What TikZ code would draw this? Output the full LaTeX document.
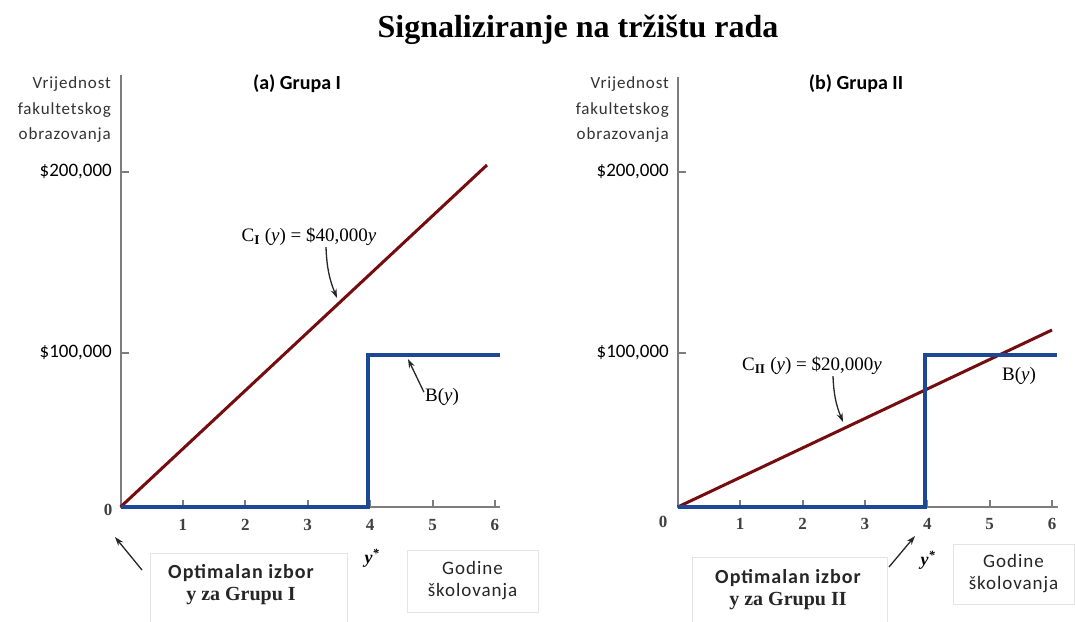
\documentclass[tikz,border=0pt]{standalone}
\usepackage{fontspec}
\setmainfont{Liberation Serif}
\setsansfont{Carlito}
\newfontfamily\widesans[LetterSpace=5]{Carlito}
\usetikzlibrary{arrows.meta}

\definecolor{costred}{RGB}{118,12,14}
\definecolor{benblue}{RGB}{28,72,150}
\definecolor{axisgray}{RGB}{125,125,125}
\definecolor{boxgray}{RGB}{228,228,228}

\begin{document}
\begin{tikzpicture}[x=1pt,y=-1pt,
    axisline/.style={draw=axisgray,line width=2pt},
    costline/.style={draw=costred,line width=3pt},
    benline/.style={draw=benblue,line width=3.5pt},
    pointer/.style={-{Stealth[length=9pt,width=6pt]},line width=1.3pt,black!85},
    vallab/.style={font=\widesans\fontsize{17}{25.5}\selectfont,align=right,anchor=east,text=black!80,inner sep=0pt},
    moneylab/.style={font=\sffamily\fontsize{19}{20}\selectfont,anchor=east,inner sep=0pt},
    yearlab/.style={font=\bfseries\fontsize{17}{18}\selectfont,text=black!75,inner sep=0pt},
    paneltitle/.style={font=\sffamily\bfseries\fontsize{20}{22}\selectfont,inner sep=0pt},
    curvelab/.style={font=\fontsize{19}{22}\selectfont,inner sep=1pt},
    infobox/.style={draw=boxgray,line width=1pt,fill=white},
    boxtext/.style={align=center,font=\fontsize{20}{22}\selectfont,text=black!85},
  ]
  % Background and margins
  \fill[white] (0,0) rectangle (1075,621);
  \useasboundingbox (0,0) rectangle (1075,621);

  % Title
  \node[font=\bfseries\fontsize{32}{36}\selectfont,anchor=base] (title) at (578,37) {Signaliziranje na tržištu rada};

  % ---------- (a) Grupa I ----------
  % Draw axes
  \draw[axisline] (120.5,75) -- (120.5,507) -- (500,507);
  \foreach \k in {1,...,6}
    \draw[axisline] (120.5+62.4*\k,507) -- (120.5+62.4*\k,500);
  \draw[axisline] (120.5,172) -- (129,172);
  \draw[axisline] (120.5,353) -- (129,353);

  % Axis labels
  \node[vallab] (valA) at (111,110) {Vrijednost\\fakultetskog\\obrazovanja};
  \node[moneylab] (topA) at (112,172) {\$200,000};
  \node[moneylab] (midA) at (112,353) {\$100,000};
  \node[yearlab] (zeroA) at (108,510) {0};
  \foreach \k in {1,...,6}
    \node[yearlab] (yrA\k) at (120.5+62.4*\k,525) {\k};
  \node[paneltitle] (panelA) at (297,84) {(a) Grupa I};

  % Cost line and benefit step
  \draw[costline] (120.5,507) -- (487,165);
  \draw[benline] (120.5,507) -- (368,507) -- (368,355) -- (500,355);

  % Curve labels
  \node[curvelab] (cIlab) at (309,237) {C\textsubscript{\textbf{I}} (\textit{y}) = \$40,000\textit{y}};
  \coordinate (cIpt) at (337,298);
  \draw[pointer] ([xshift=17pt]cIlab.south) to[bend right=10] (cIpt);
  \node[curvelab] (bA) at (442,397) {B(\textit{y})};
  \coordinate (bApt) at (408,359);
  \draw[pointer] ([yshift=-5pt]bA.north west) -- (bApt);

  % Notes under the axis
  \node[font=\bfseries\itshape\fontsize{18}{20}\selectfont] (ystarA) at (372,558) {y\textsuperscript{*}};
  \node[infobox,minimum width=197pt,minimum height=75pt,anchor=north west] (optAbox) at (150,553) {};
  \node[boxtext] (optA) at (241,585) {{\widesans\bfseries Optimalan izbor}\\\textbf{y za Grupu I}};
  \coordinate (zeroApt) at (115,537);
  \draw[pointer] ([shift={(-8,17)}]optAbox.north west) -- (zeroApt);
  \node[infobox,boxtext,font=\widesans\fontsize{19}{22}\selectfont,minimum width=131pt,minimum height=62pt] (yearsA) at (472.5,581) {Godine\\školovanja};

  % ---------- (b) Grupa II ----------
  % Draw axes
  \draw[axisline] (677.7,77) -- (677.7,507) -- (1058,507);
  \foreach \k in {1,...,6}
    \draw[axisline] (677.7+62.4*\k,507) -- (677.7+62.4*\k,500);
  \draw[axisline] (677.7,172) -- (686,172);
  \draw[axisline] (677.7,353) -- (686,353);

  % Axis labels
  \node[vallab] (valB) at (669,110) {Vrijednost\\fakultetskog\\obrazovanja};
  \node[moneylab] (topB) at (669,172) {\$200,000};
  \node[moneylab] (midB) at (669,353) {\$100,000};
  \node[yearlab] (zeroB) at (663,522) {0};
  \foreach \k in {1,...,6}
    \node[yearlab] (yrB\k) at (677.7+62.4*\k,524) {\k};
  \node[paneltitle] (panelB) at (856,84) {(b) Grupa II};

  % Cost line and benefit step
  \draw[costline] (677.7,507) -- (1052,330);
  \draw[benline] (677.7,507) -- (925,507) -- (925,355) -- (1057,355);

  % Curve labels
  \node[curvelab] (cIIlab) at (812,366) {C\textsubscript{\textbf{II}} (\textit{y}) = \$20,000\textit{y}};
  \coordinate (cIIpt) at (843,422);
  \draw[pointer] ([xshift=21pt]cIIlab.south) to[bend right=10] (cIIpt);
  \node[curvelab] (bB) at (1019,376) {B(\textit{y})};

  % Notes under the axis
  \node[font=\bfseries\itshape\fontsize{18}{20}\selectfont] (ystarB) at (928,560) {y\textsuperscript{*}};
  \node[infobox,minimum width=195pt,minimum height=75pt,anchor=north west] (optBbox) at (692,557) {};
  \node[boxtext] (optB) at (788,590) {{\widesans\bfseries Optimalan izbor}\\\textbf{y za Grupu II}};
  \coordinate (fourBpt) at (915,536);
  \draw[pointer] ([shift={(1,10)}]optBbox.north east) -- (fourBpt);
  \node[infobox,boxtext,font=\widesans\fontsize{19}{22}\selectfont,minimum width=121pt,minimum height=60pt] (yearsB) at (1013.5,574) {Godine\\školovanja};
\end{tikzpicture}
\end{document}
